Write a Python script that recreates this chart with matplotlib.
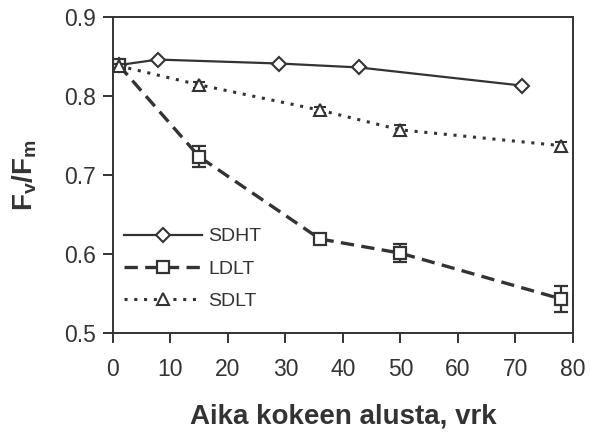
import matplotlib
matplotlib.use("Agg")
import matplotlib.pyplot as plt
from matplotlib.lines import Line2D

plt.rcParams['font.family'] = ['Liberation Sans', 'DejaVu Sans']
plt.rcParams['mathtext.fontset'] = 'custom'
plt.rcParams['mathtext.rm'] = 'Liberation Sans'
plt.rcParams['mathtext.bf'] = 'Liberation Sans:bold'

INK = '#333333'

# Days since start of experiment and Fv/Fm values
sdht_days = [1, 7.8, 28.9, 42.8, 71.2]
sdht_vals = [0.839, 0.846, 0.841, 0.836, 0.813]

ldlt_days = [1, 15, 36, 50, 78]
ldlt_vals = [0.839, 0.723, 0.619, 0.601, 0.543]
ldlt_err = [0.004, 0.013, 0.006, 0.011, 0.016]

sdlt_days = [1, 15, 36, 50, 78]
sdlt_vals = [0.838, 0.814, 0.782, 0.757, 0.737]
sdlt_err = [0.003, 0.004, 0.004, 0.006, 0.005]

series_names = ['SDHT', 'LDLT', 'SDLT']
x_ticks = [0, 10, 20, 30, 40, 50, 60, 70, 80]
y_ticks = [0.5, 0.6, 0.7, 0.8, 0.9]

fig = plt.figure(figsize=(5.9, 4.33), dpi=100)
ax = fig.add_axes([0.1915, 0.231, 0.7795, 0.730])

sdht_style = dict(ls='-', color=INK, lw=1.6, marker='D', ms=7,
                  mfc='white', mec=INK, mew=1.5)
ldlt_style = dict(ls=(0, (4, 2.2)), color=INK, lw=2.4, marker='s', ms=9,
                  mfc='white', mec=INK, mew=1.6)
sdlt_style = dict(ls=(0, (1, 2.2)), color=INK, lw=2.2, marker='^', ms=8,
                  mfc='white', mec=INK, mew=1.5)

ax.plot(sdht_days, sdht_vals, zorder=3, **sdht_style)
ax.errorbar(ldlt_days, ldlt_vals, yerr=ldlt_err, ecolor=INK, elinewidth=1.6,
            capsize=5, capthick=1.6, zorder=4, **ldlt_style)
ax.errorbar(sdlt_days, sdlt_vals, yerr=sdlt_err, ecolor=INK, elinewidth=1.5,
            capsize=4.5, capthick=1.5, zorder=5, **sdlt_style)

ax.set_xlim(0, 80)
ax.set_ylim(0.5, 0.9)
ax.set_xticks(x_ticks)
ax.set_yticks(y_ticks)
ax.set_yticklabels([f'{v:.1f}' for v in y_ticks])

for s in ax.spines.values():
    s.set_color(INK)
    s.set_linewidth(1.4)

ax.tick_params(axis='both', direction='out', length=7, width=1.4,
               colors=INK, labelsize=16.5, labelcolor=INK)
ax.tick_params(axis='x', pad=11)
ax.tick_params(axis='y', pad=5)

ax.set_xlabel('Aika kokeen alusta, vrk', fontsize=20, fontweight='bold',
              color=INK, labelpad=16)
ax.set_ylabel(r'$\mathbf{F_v/F_m}$', fontsize=20, color=INK, labelpad=18)

handles = [Line2D([], [], **sdht_style),
           Line2D([], [], **ldlt_style),
           Line2D([], [], **sdlt_style)]
leg = ax.legend(handles, series_names, loc='lower left',
                bbox_to_anchor=(-0.005, 0.03), frameon=False, fontsize=14,
                handlelength=4.0, handletextpad=0.3, labelspacing=0.75,
                borderaxespad=0.3)
for t in leg.get_texts():
    t.set_color(INK)

fig.savefig('out.png', dpi=100)
